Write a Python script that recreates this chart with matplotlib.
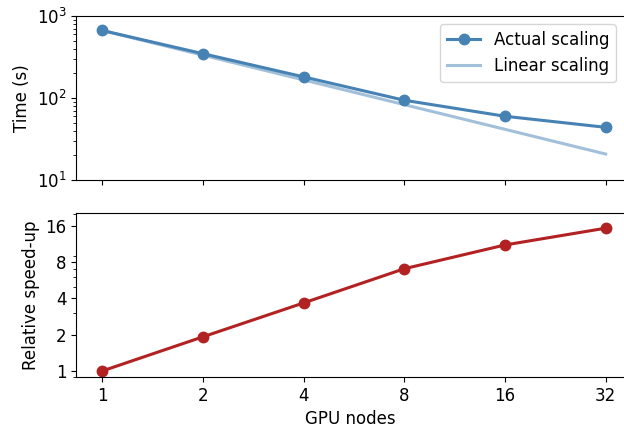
import matplotlib
matplotlib.use("Agg")
import matplotlib.pyplot as plt
from matplotlib.ticker import NullLocator

plt.rcParams["font.size"] = 12

nodes = [1, 2, 4, 8, 16, 32]
actual_time = [665, 347, 181, 94, 60, 44]
linear_time = [665, 332.5, 166.3, 83.1, 41.6, 20.8]
speedup = [1.0, 1.92, 3.67, 7.05, 11.1, 15.3]
speedup_ticks = [1, 2, 4, 8, 16]

fig = plt.figure(figsize=(6.24, 4.30), dpi=100)
ax1 = fig.add_axes([0.122, 0.581, 0.878, 0.382])
ax2 = fig.add_axes([0.122, 0.123, 0.878, 0.382], sharex=ax1)

ax1.plot(nodes, actual_time, "-o", color="#4682b4", lw=2.2, ms=7.5, label="Actual scaling", zorder=3)
ax1.plot(nodes, linear_time, "-", color="#4682b4", alpha=0.5, lw=2.2, label="Linear scaling")
ax1.set_yscale("log")
ax1.set_xscale("log")
ax1.set_ylim(10, 1000)
ax1.set_ylabel("Time (s)")
ax1.legend(loc="upper right")
ax1.spines["right"].set_visible(False)
ax1.tick_params(labelbottom=False)

ax2.plot(nodes, speedup, "-o", color="#b22222", lw=2.2, ms=7.5)
ax2.set_yscale("log")
ax2.set_ylim(0.89, 20.5)
ax2.set_yticks(speedup_ticks)
ax2.set_yticklabels([str(t) for t in speedup_ticks])
ax2.set_xlim(0.836, 36.3)
ax2.set_xticks(nodes)
ax2.set_xticklabels([str(n) for n in nodes])
ax2.xaxis.set_minor_locator(NullLocator())
ax2.set_xlabel("GPU nodes")
ax2.set_ylabel("Relative speed-up")
ax2.spines["right"].set_visible(False)

fig.savefig("out.png", dpi=100)
